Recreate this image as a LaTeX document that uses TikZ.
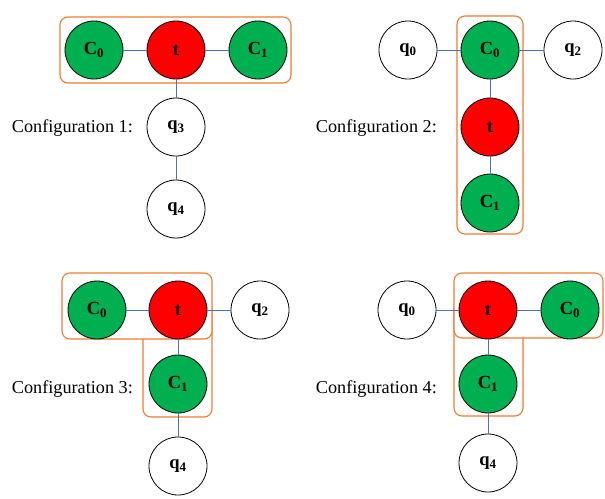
\documentclass[tikz,border=0pt]{standalone}
\usepackage{fontspec}
\setmainfont{Liberation Serif}
\definecolor{qgreen}{HTML}{00B050}
\definecolor{qred}{HTML}{FF0000}
\definecolor{qblue}{HTML}{4472C4}
\definecolor{qorange}{HTML}{ED7D31}
\begin{document}
\begin{tikzpicture}[x=1pt,y=-1pt,
  qb/.style={circle,draw=black,line width=0.8pt,minimum size=58pt,inner sep=0pt,
    font=\fontsize{18.5}{20}\selectfont\bfseries},
  cnode/.style={qb,fill=qgreen},
  tnode/.style={qb,fill=qred},
  qnode/.style={qb,fill=white},
  link/.style={draw=qblue,line width=0.9pt},
  grp/.style={draw=qorange,line width=1.1pt,rounded corners=8pt,fill=white},
  cfg/.style={anchor=base east,inner sep=0pt,font=\fontsize{18.2}{20}\selectfont}]
\useasboundingbox (0,0) rectangle (605,498);
% Config 1
\draw[grp] (60,17) rectangle (291,83);
\node[cnode] (a0) at (94,50) {C\textsubscript{0}};
\node[tnode] (at) at (176,50) {t};
\node[cnode] (a1) at (258,50) {C\textsubscript{1}};
\node[qnode] (a3) at (176,127) {q\textsubscript{3}};
\node[qnode] (a4) at (176,209) {q\textsubscript{4}};
\node[cfg] (l1) at (133,132) {Configuration 1:};
% Config 2
\draw[grp] (457,16) rectangle (523,234);
\node[qnode] (bq0) at (408,50) {q\textsubscript{0}};
\node[cnode] (b0) at (490,50) {C\textsubscript{0}};
\node[qnode] (bq2) at (573,50) {q\textsubscript{2}};
\node[tnode] (bt) at (490,127) {t};
\node[cnode] (b1) at (490,203) {C\textsubscript{1}};
\node[cfg] (l2) at (437,132) {Configuration 2:};
% Config 3
\draw[grp] (143,300) rectangle (212,417);
\draw[grp] (62,273) rectangle (212,339);
\node[cnode] (c0) at (97,310) {C\textsubscript{0}};
\node[tnode] (ct) at (178,310) {t};
\node[qnode] (cq2) at (260,310) {q\textsubscript{2}};
\node[cnode] (c1) at (178,384) {C\textsubscript{1}};
\node[qnode] (cq4) at (178,466) {q\textsubscript{4}};
\node[cfg] (l3) at (133,393) {Configuration 3:};
% Config 4
\draw[grp] (454,300) rectangle (523,416);
\draw[grp] (454,273) rectangle (603,338);
\node[qnode] (dq0) at (407,310) {q\textsubscript{0}};
\node[tnode] (dt) at (488,310) {t};
\node[cnode] (d0) at (570,310) {C\textsubscript{0}};
\node[cnode] (d1) at (488,384) {C\textsubscript{1}};
\node[qnode] (dq4) at (488,463) {q\textsubscript{4}};
\node[cfg] (l4) at (437,393) {Configuration 4:};
% links
\path[link] (a0) -- (at) (at) -- (a1) (at) -- (a3) (a3) -- (a4);
\path[link] (bq0) -- (b0) (b0) -- (bq2) (b0) -- (bt) (bt) -- (b1);
\path[link] (c0) -- (ct) (ct) -- (cq2) (ct) -- (c1) (c1) -- (cq4);
\path[link] (dq0) -- (dt) (dt) -- (d0) (dt) -- (d1) (d1) -- (dq4);
\end{tikzpicture}
\end{document}
